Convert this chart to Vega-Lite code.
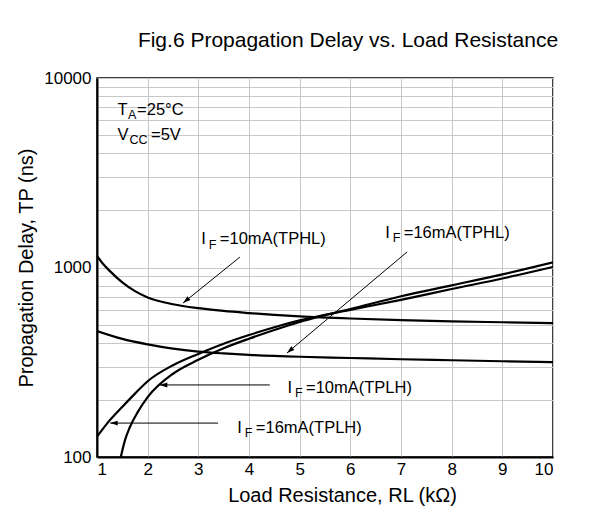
{
  "$schema": "https://vega.github.io/schema/vega-lite/v6.json",
  "width": 456,
  "height": 379,
  "autosize": {"type": "none"},
  "padding": {"left": 97, "top": 78, "right": 43, "bottom": 64},
  "background": "white",
  "title": {
    "text": "Fig.6 Propagation Delay vs. Load Resistance",
    "font": "Liberation Sans",
    "fontSize": 21,
    "fontWeight": "normal",
    "color": "black",
    "anchor": "middle",
    "baseline": "alphabetic",
    "dx": 23,
    "offset": 1
  },
  "config": {
    "view": {"stroke": "black", "strokeWidth": 1.5},
    "axis": {
      "grid": true,
      "gridColor": "#c8c8c8",
      "gridWidth": 1,
      "domainColor": "black",
      "domainWidth": 2,
      "ticks": false,
      "labelFont": "Liberation Sans",
      "labelFontSize": 17,
      "labelColor": "black",
      "titleFont": "Liberation Sans",
      "titleFontSize": 20,
      "titleFontWeight": "normal",
      "titleColor": "black"
    }
  },
  "datasets": {
    "curves": [
      {"series": "IF=10mA TPHL", "x": 1, "y": 1150},
      {"series": "IF=10mA TPHL", "x": 1.1, "y": 1060},
      {"series": "IF=10mA TPHL", "x": 1.25, "y": 960},
      {"series": "IF=10mA TPHL", "x": 1.5, "y": 835},
      {"series": "IF=10mA TPHL", "x": 1.75, "y": 750},
      {"series": "IF=10mA TPHL", "x": 2, "y": 695},
      {"series": "IF=10mA TPHL", "x": 2.5, "y": 640},
      {"series": "IF=10mA TPHL", "x": 3, "y": 610},
      {"series": "IF=10mA TPHL", "x": 3.5, "y": 590},
      {"series": "IF=10mA TPHL", "x": 4, "y": 575},
      {"series": "IF=10mA TPHL", "x": 4.5, "y": 562},
      {"series": "IF=10mA TPHL", "x": 5, "y": 552},
      {"series": "IF=10mA TPHL", "x": 6, "y": 538},
      {"series": "IF=10mA TPHL", "x": 7, "y": 528},
      {"series": "IF=10mA TPHL", "x": 8, "y": 520},
      {"series": "IF=10mA TPHL", "x": 9, "y": 514},
      {"series": "IF=10mA TPHL", "x": 10, "y": 509},
      {"series": "IF=16mA TPHL", "x": 1, "y": 462},
      {"series": "IF=16mA TPHL", "x": 1.5, "y": 420},
      {"series": "IF=16mA TPHL", "x": 2, "y": 393},
      {"series": "IF=16mA TPHL", "x": 2.5, "y": 373},
      {"series": "IF=16mA TPHL", "x": 3, "y": 360},
      {"series": "IF=16mA TPHL", "x": 3.5, "y": 352},
      {"series": "IF=16mA TPHL", "x": 4, "y": 346},
      {"series": "IF=16mA TPHL", "x": 5, "y": 338},
      {"series": "IF=16mA TPHL", "x": 6, "y": 333},
      {"series": "IF=16mA TPHL", "x": 7, "y": 328},
      {"series": "IF=16mA TPHL", "x": 8, "y": 324},
      {"series": "IF=16mA TPHL", "x": 9, "y": 320},
      {"series": "IF=16mA TPHL", "x": 10, "y": 317},
      {"series": "IF=16mA TPLH", "x": 1, "y": 128},
      {"series": "IF=16mA TPLH", "x": 1.25, "y": 156},
      {"series": "IF=16mA TPLH", "x": 1.5, "y": 184},
      {"series": "IF=16mA TPLH", "x": 1.75, "y": 216},
      {"series": "IF=16mA TPLH", "x": 2, "y": 251},
      {"series": "IF=16mA TPLH", "x": 2.5, "y": 305},
      {"series": "IF=16mA TPLH", "x": 3, "y": 350},
      {"series": "IF=16mA TPLH", "x": 3.5, "y": 396},
      {"series": "IF=16mA TPLH", "x": 4, "y": 440},
      {"series": "IF=16mA TPLH", "x": 4.5, "y": 484},
      {"series": "IF=16mA TPLH", "x": 5, "y": 526},
      {"series": "IF=16mA TPLH", "x": 5.5, "y": 563},
      {"series": "IF=16mA TPLH", "x": 6, "y": 598},
      {"series": "IF=16mA TPLH", "x": 7, "y": 675},
      {"series": "IF=16mA TPLH", "x": 8, "y": 770},
      {"series": "IF=16mA TPLH", "x": 9, "y": 875},
      {"series": "IF=16mA TPLH", "x": 10, "y": 1007},
      {"series": "IF=10mA TPLH", "x": 1.44, "y": 92},
      {"series": "IF=10mA TPLH", "x": 1.47, "y": 100},
      {"series": "IF=10mA TPLH", "x": 1.55, "y": 122},
      {"series": "IF=10mA TPLH", "x": 1.65, "y": 144},
      {"series": "IF=10mA TPLH", "x": 1.8, "y": 172},
      {"series": "IF=10mA TPLH", "x": 2, "y": 207},
      {"series": "IF=10mA TPLH", "x": 2.5, "y": 275},
      {"series": "IF=10mA TPLH", "x": 3, "y": 326},
      {"series": "IF=10mA TPLH", "x": 3.5, "y": 375},
      {"series": "IF=10mA TPLH", "x": 4, "y": 421},
      {"series": "IF=10mA TPLH", "x": 4.5, "y": 468},
      {"series": "IF=10mA TPLH", "x": 5, "y": 516},
      {"series": "IF=10mA TPLH", "x": 5.5, "y": 560},
      {"series": "IF=10mA TPLH", "x": 6, "y": 604},
      {"series": "IF=10mA TPLH", "x": 7, "y": 705},
      {"series": "IF=10mA TPLH", "x": 8, "y": 805},
      {"series": "IF=10mA TPLH", "x": 9, "y": 920},
      {"series": "IF=10mA TPLH", "x": 10, "y": 1065}
    ],
    "arrows": [
      {"kind": "diag", "x": 2.7, "y": 650, "x2": 3.82, "y2": 1135},
      {"kind": "diag", "x": 4.75, "y": 354, "x2": 7.12, "y2": 1208},
      {"kind": "left", "x": 2.24, "y": 240, "x2": 4.41, "y2": 240},
      {"kind": "left", "x": 1.26, "y": 151, "x2": 3.39, "y2": 151}
    ],
    "iflabels": [
      {"x": 3.06, "y": 1330, "main": "I", "sub": "F", "rest": "=10mA(TPHL)"},
      {"x": 6.69, "y": 1432, "main": "I", "sub": "F", "rest": "=16mA(TPHL)"},
      {"x": 4.76, "y": 218, "main": "I", "sub": "F", "rest": "=10mA(TPLH)"},
      {"x": 3.77, "y": 134, "main": "I", "sub": "F", "rest": "=16mA(TPLH)"}
    ],
    "cond": [
      {"x": 1.405, "y": 6385, "main": "T", "sub": "A", "rest": "=25°C"},
      {"x": 1.405, "y": 4712, "main": "V", "sub": "CC", "rest": "=5V"}
    ]
  },
  "encoding": {
    "x": {
      "field": "x",
      "type": "quantitative",
      "scale": {"type": "linear", "domain": [1, 10], "nice": false, "zero": false},
      "axis": {
        "values": [1, 2, 3, 4, 5, 6, 7, 8, 9, 10],
        "format": "d",
        "labelPadding": 4,
        "titlePadding": 8,
        "titleX": 245,
        "title": "Load Resistance, RL (kΩ)"
      }
    },
    "y": {
      "field": "y",
      "type": "quantitative",
      "scale": {"type": "log", "domain": [100, 10000], "nice": false},
      "axis": {
        "values": [100, 200, 300, 400, 500, 600, 700, 800, 900, 1000, 2000, 3000, 4000, 5000, 6000, 7000, 8000, 9000, 10000],
        "labelExpr": "datum.value == 100 || datum.value == 1000 || datum.value == 10000 ? format(datum.value, 'd') : ''",
        "labelPadding": 6,
        "titlePadding": 7,
        "title": "Propagation Delay, TP (ns)"
      }
    }
  },
  "layer": [
    {
      "data": {"name": "curves"},
      "mark": {"type": "line", "color": "black", "strokeWidth": 2.2, "interpolate": "monotone", "clip": true},
      "encoding": {"detail": {"field": "series", "type": "nominal"}}
    },
    {
      "data": {"name": "arrows"},
      "mark": {"type": "rule", "color": "black", "strokeWidth": 1},
      "encoding": {"x2": {"field": "x2"}, "y2": {"field": "y2"}}
    },
    {
      "data": {"name": "arrows"},
      "transform": [{"filter": "datum.kind == 'left'"}],
      "mark": {"type": "point", "shape": "M0,0L2,-0.65L2,0.65Z", "filled": true, "color": "black", "opacity": 1, "size": 56},
      "encoding": {}
    },
    {
      "data": {"name": "arrows"},
      "transform": [{"filter": "datum.kind == 'diag'"}],
      "mark": {"type": "point", "shape": "M0,0L2,-0.65L2,0.65Z", "filled": true, "color": "black", "opacity": 1, "size": 56, "angle": -39.5},
      "encoding": {}
    },
    {
      "data": {"name": "iflabels"},
      "mark": {"type": "text", "align": "left", "baseline": "alphabetic", "font": "Liberation Sans", "fontSize": 16.5, "color": "black"},
      "encoding": {"text": {"field": "main"}}
    },
    {
      "data": {"name": "iflabels"},
      "mark": {"type": "text", "align": "left", "baseline": "alphabetic", "font": "Liberation Sans", "fontSize": 12.5, "color": "black", "dx": 7.5, "dy": 4.5},
      "encoding": {"text": {"field": "sub"}}
    },
    {
      "data": {"name": "iflabels"},
      "mark": {"type": "text", "align": "left", "baseline": "alphabetic", "font": "Liberation Sans", "fontSize": 16.5, "color": "black", "dx": 18.5},
      "encoding": {"text": {"field": "rest"}}
    },
    {
      "data": {"name": "cond"},
      "mark": {"type": "text", "align": "left", "baseline": "alphabetic", "font": "Liberation Sans", "fontSize": 16.5, "color": "black"},
      "encoding": {"text": {"field": "main"}}
    },
    {
      "data": {"name": "cond"},
      "transform": [{"filter": "datum.main == 'T'"}],
      "mark": {"type": "text", "align": "left", "baseline": "alphabetic", "font": "Liberation Sans", "fontSize": 12.5, "color": "black", "dx": 10.4, "dy": 4.5},
      "encoding": {"text": {"field": "sub"}}
    },
    {
      "data": {"name": "cond"},
      "transform": [{"filter": "datum.main == 'T'"}],
      "mark": {"type": "text", "align": "left", "baseline": "alphabetic", "font": "Liberation Sans", "fontSize": 16.5, "color": "black", "dx": 19.6},
      "encoding": {"text": {"field": "rest"}}
    },
    {
      "data": {"name": "cond"},
      "transform": [{"filter": "datum.main == 'V'"}],
      "mark": {"type": "text", "align": "left", "baseline": "alphabetic", "font": "Liberation Sans", "fontSize": 12.5, "color": "black", "dx": 12, "dy": 4.5},
      "encoding": {"text": {"field": "sub"}}
    },
    {
      "data": {"name": "cond"},
      "transform": [{"filter": "datum.main == 'V'"}],
      "mark": {"type": "text", "align": "left", "baseline": "alphabetic", "font": "Liberation Sans", "fontSize": 16.5, "color": "black", "dx": 33.5},
      "encoding": {"text": {"field": "rest"}}
    }
  ]
}
